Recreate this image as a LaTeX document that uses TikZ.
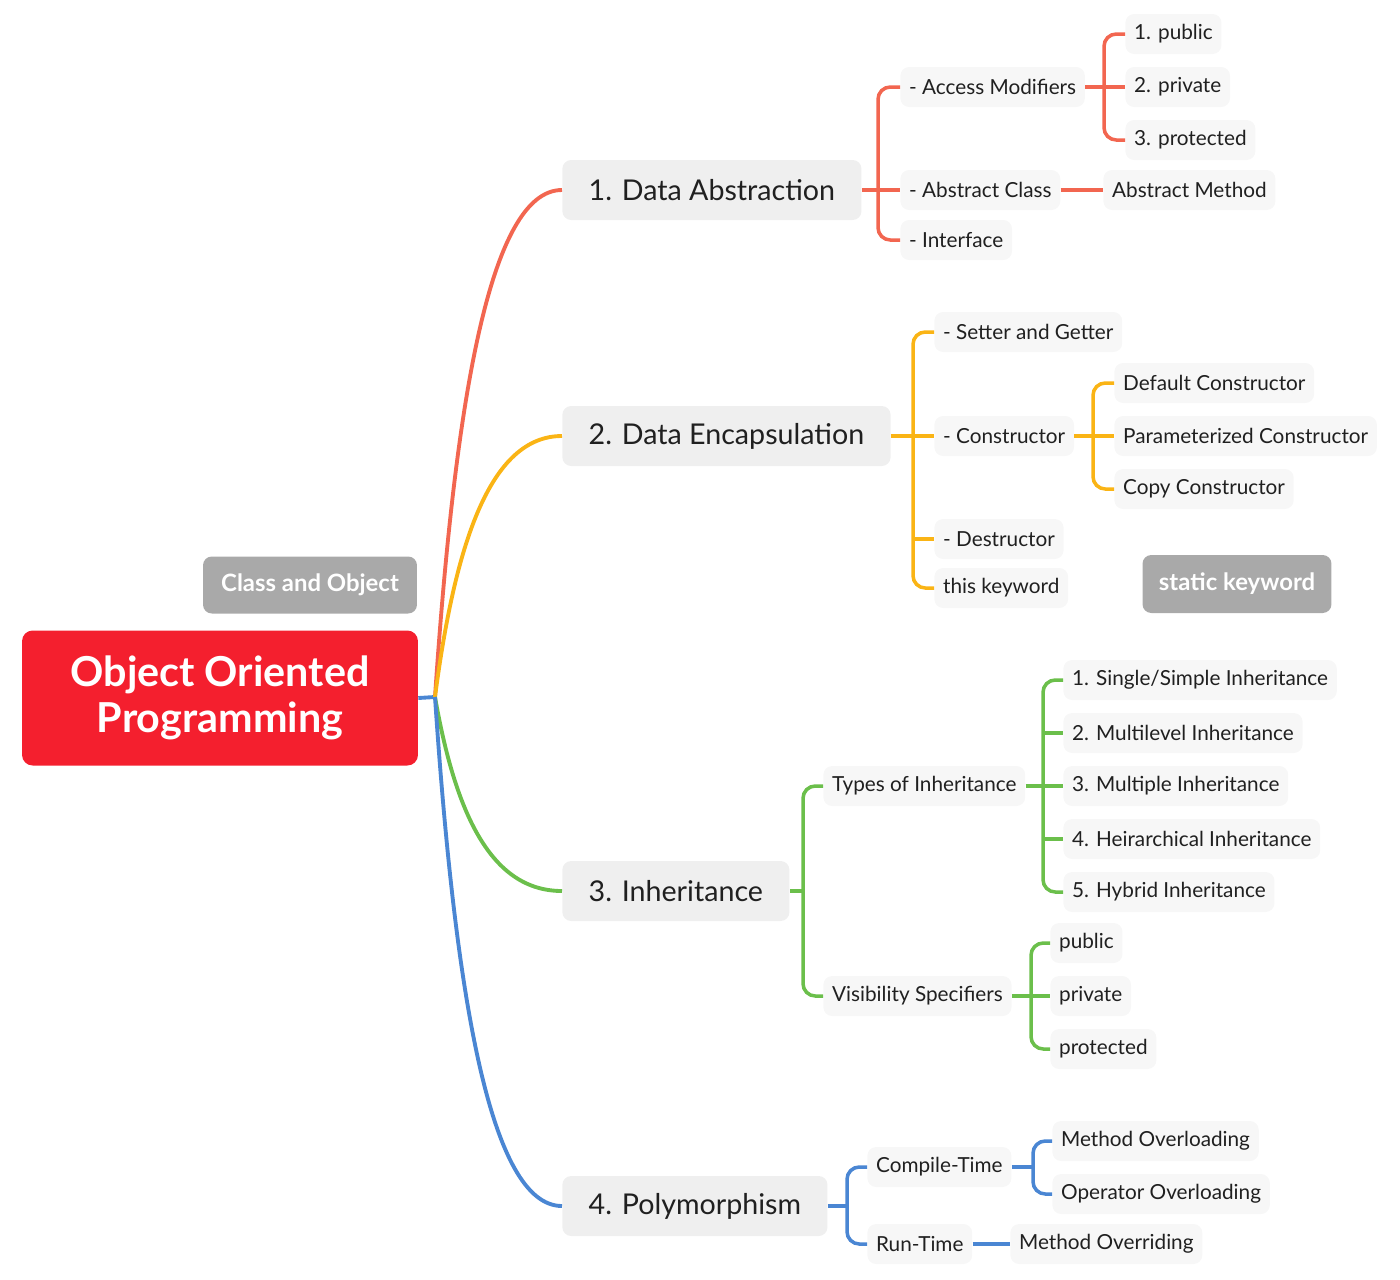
\documentclass[tikz,border=0pt]{standalone}
\usepackage{fontspec}
\setmainfont{Lato}
\usetikzlibrary{positioning}
\definecolor{ooproot}{HTML}{F41F2E}
\definecolor{oopgray}{HTML}{A9A9A9}
\definecolor{abstr}{HTML}{F26650}
\definecolor{encap}{HTML}{FAB415}
\definecolor{inher}{HTML}{6BBF4B}
\definecolor{poly}{HTML}{4A86D3}
\definecolor{mainbox}{HTML}{EFEFEF}
\definecolor{subbox}{HTML}{F7F7F7}
\definecolor{ink}{HTML}{202020}

\begin{document}
\begin{tikzpicture}[x=0.02cm, y=-0.02cm,
    topic/.style={fill=mainbox, rounded corners=5pt, anchor=west, minimum height=1.2cm,
        inner xsep=15pt, text=ink, font=\fontsize{16.3}{20}\selectfont},
    leaf/.style={fill=subbox, rounded corners=5pt, anchor=west, minimum height=0.8cm,
        inner xsep=5pt, text=ink, font=\fontsize{11.8}{14}\selectfont},
    tag/.style={fill=oopgray, rounded corners=5pt, text=white, font=\bfseries\fontsize{13.6}{16}\selectfont},
    branch/.style={line width=2.2pt},
    twig/.style={line width=2pt, rounded corners=7pt}]
    \useasboundingbox (0,0) rectangle (1400,1279);

    % 中心主题
    \node[fill=ooproot, rounded corners=6pt, minimum width=7.92cm, minimum height=2.7cm,
        text=white, align=center, font=\bfseries\fontsize{23.5}{26.5}\selectfont]
        (oop) at (220,698) {Object Oriented\\Programming};
    \node[tag, minimum width=4.28cm, minimum height=1.14cm] (cao) at (310,585) {Class and Object};
    \node[tag, minimum width=3.78cm, minimum height=1.16cm] (stk) at (1237,584) {static keyword};

    % 四个分支
    \node[topic] (abs) at (562,190) {1. Data Abstraction};
    \node[topic] (enc) at (562,436) {2. Data Encapsulation};
    \node[topic] (inh) at (562,891) {3. Inheritance};
    \node[topic] (pol) at (562,1206) {4. Polymorphism};

    \coordinate (hub) at (435,697);
    \draw[branch, poly] (oop.east) -- (hub);
    \draw[branch, abstr] (hub) .. controls (455,400) and (490,190) .. (abs.west);
    \draw[branch, encap] (hub) .. controls (455,544) and (490,436) .. (enc.west);
    \draw[branch, inher] (hub) .. controls (455,811) and (490,891) .. (inh.west);
    \draw[branch, poly] (hub) .. controls (455,995) and (490,1206) .. (pol.west);

    % 1. Data Abstraction
    \node[leaf] (acc) at (900,87) {- Access Modifiers};
    \node[leaf] (acl) at (900,190) {- Abstract Class};
    \node[leaf] (itf) at (900,240) {- Interface};
    \coordinate (absfork) at (878,190);
    \draw[twig, abstr] (abs.east) -- (acl.west);
    \draw[twig, abstr] (acc.west) -- (acc.west -| absfork) -- (itf.west -| absfork) -- (itf.west);

    \node[leaf] (pub) at (1125,34) {1. public};
    \node[leaf] (pri) at (1125,87) {2. private};
    \node[leaf] (pro) at (1125,140) {3. protected};
    \coordinate (accfork) at (1104,87);
    \draw[twig, abstr] (acc.east) -- (pri.west);
    \draw[twig, abstr] (pub.west) -- (pub.west -| accfork) -- (pro.west -| accfork) -- (pro.west);

    \node[leaf] (amt) at (1103,190) {Abstract Method};
    \draw[twig, abstr] (acl.east) -- (amt.west);

    % 2. Data Encapsulation
    \node[leaf] (set) at (934,332) {- Setter and Getter};
    \node[leaf] (con) at (934,436) {- Constructor};
    \node[leaf] (des) at (934,539) {- Destructor};
    \node[leaf] (thk) at (934,588) {this keyword};
    \coordinate (encfork) at (913,436);
    \draw[twig, encap] (enc.east) -- (con.west);
    \draw[twig, encap] (set.west) -- (set.west -| encfork) -- (thk.west -| encfork) -- (thk.west);
    \draw[twig, encap] (des.west -| encfork) -- (des.west);

    \node[leaf] (dfc) at (1114,383) {Default Constructor};
    \node[leaf] (pmc) at (1114,436) {Parameterized Constructor};
    \node[leaf] (cpc) at (1114,489) {Copy Constructor};
    \coordinate (confork) at (1093,436);
    \draw[twig, encap] (con.east) -- (pmc.west);
    \draw[twig, encap] (dfc.west) -- (dfc.west -| confork) -- (cpc.west -| confork) -- (cpc.west);

    % 3. Inheritance
    \node[leaf] (toi) at (823,786) {Types of Inheritance};
    \node[leaf] (vis) at (823,996) {Visibility Specifiers};
    \coordinate (inhfork) at (803,891);
    \draw[twig, inher] (inh.east) -- (inhfork);
    \draw[twig, inher] (toi.west) -- (toi.west -| inhfork) -- (vis.west -| inhfork) -- (vis.west);

    \foreach \t [count=\i] in {Single/Simple, Multilevel, Multiple, Heirarchical, Hybrid}
        \node[leaf] (ty\i) at (1063,627+53*\i) {\i. \t{} Inheritance};
    \coordinate (toifork) at (1043,786);
    \draw[twig, inher] (toi.east) -- (ty3.west);
    \draw[twig, inher] (ty1.west) -- (ty1.west -| toifork) -- (ty5.west -| toifork) -- (ty5.west);
    \foreach \i in {2,4}
        \draw[twig, inher] (ty\i.west -| toifork) -- (ty\i.west);

    \node[leaf] (vpu) at (1050,943) {public};
    \node[leaf] (vpr) at (1050,996) {private};
    \node[leaf] (vpt) at (1050,1049) {protected};
    \coordinate (visfork) at (1031,996);
    \draw[twig, inher] (vis.east) -- (vpr.west);
    \draw[twig, inher] (vpu.west) -- (vpu.west -| visfork) -- (vpt.west -| visfork) -- (vpt.west);

    % 4. Polymorphism
    \node[leaf] (cmp) at (867,1167) {Compile-Time};
    \node[leaf] (run) at (867,1244) {Run-Time};
    \coordinate (polfork) at (847,1206);
    \draw[twig, poly] (pol.east) -- (polfork);
    \draw[twig, poly] (cmp.west) -- (cmp.west -| polfork) -- (run.west -| polfork) -- (run.west);

    \node[leaf] (mol) at (1052,1141) {Method Overloading};
    \node[leaf] (opl) at (1052,1194) {Operator Overloading};
    \coordinate (cmpfork) at (1033,1167);
    \draw[twig, poly] (cmp.east) -- (cmpfork);
    \draw[twig, poly] (mol.west) -- (mol.west -| cmpfork) -- (opl.west -| cmpfork) -- (opl.west);

    \node[leaf] (mor) at (1010,1244) {Method Overriding};
    \draw[twig, poly] (run.east) -- (mor.west);
\end{tikzpicture}
\end{document}
